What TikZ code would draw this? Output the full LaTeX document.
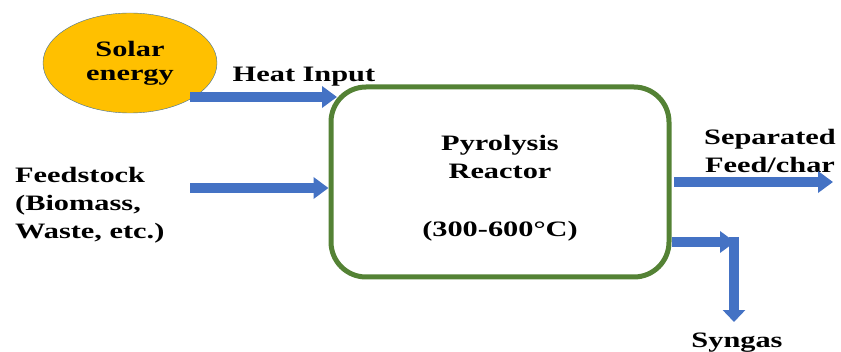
\documentclass[tikz,border=0pt]{standalone}
\usepackage{fontspec}
\setmainfont{Liberation Serif}[FakeStretch=1.38]
\usetikzlibrary{arrows.meta, positioning, shapes.geometric}
\definecolor{solarorange}{HTML}{FFC000}
\definecolor{reactorgreen}{HTML}{548235}
\definecolor{flowblue}{HTML}{4472C4}
\definecolor{rimblue}{HTML}{41719C}

\begin{document}
\begin{tikzpicture}[x=1pt, y=1pt,
    every node/.style={font=\fontsize{22}{28}\selectfont\bfseries, inner sep=0pt},
    flow/.style={draw=flowblue, line width=10pt, -{Triangle[length=15pt, width=21pt]}}]
    \useasboundingbox (0,0) rectangle (841,351);
    \node[ellipse, fill=solarorange, draw=rimblue, thin, minimum width=174pt, minimum height=100pt,
        align=center, font=\fontsize{22}{24}\selectfont\bfseries] (solar) at (130,288) {Solar\\energy};
    \node[anchor=base] (heat) at (304,269) {Heat Input};
    \node[anchor=west, align=left] (feed) at (15,146) {Feedstock\\(Biomass,\\Waste, etc.)};
    \node[align=center] (sep) at (770,200) {Separated\\Feed/char};
    \node[anchor=base] (syngas) at (737,4) {Syngas};
    \coordinate (heatA) at (190,254);
    \coordinate (heatB) at (337,254);
    \coordinate (feedA) at (190,163);
    \coordinate (sepB) at (833,169);
    \coordinate (synY) at (0,109);
    \coordinate (synB) at (735,109);
    \coordinate (downA) at (734,114);
    \coordinate (downB) at (734,29);
    \node[draw=reactorgreen, line width=5pt, rounded corners=35pt, minimum width=338pt, minimum height=190pt,
        label={[align=center, yshift=-6pt]center:Pyrolysis\\Reactor\\[30pt](300-600°C)}] (reactor) at (500,169) {};
    \draw[flow] (heatA) -- (heatB);
    \draw[flow] (feedA) -- (feedA -| reactor.west);
    \draw[flow, shorten <=2.5pt] (reactor.east) -- (sepB);
    \draw[flow, -{Triangle[length=12pt, width=22pt]}] (downA) -- (downB);
    \draw[flow] (reactor.east |- synY) -- (synB);
\end{tikzpicture}
\end{document}
